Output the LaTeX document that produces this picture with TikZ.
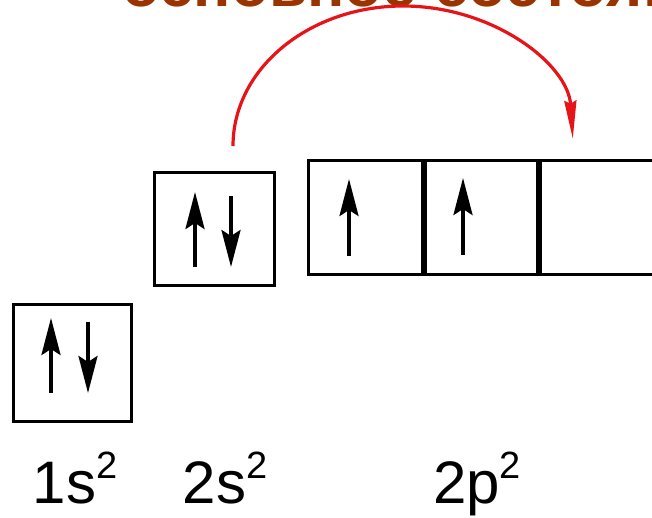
\documentclass[tikz,border=0pt]{standalone}
\usepackage{fontspec}
\setmainfont{Liberation Sans}
\usetikzlibrary{positioning, arrows.meta}
\definecolor{titlebrown}{RGB}{153,51,0}
\definecolor{jumpred}{RGB}{230,20,25}
\newcommand{\spow}[1]{\raisebox{25pt}{\fontsize{38}{42}\selectfont #1}}

\begin{document}
\begin{tikzpicture}[x=1pt, y=-1pt, %
        orb/.style={draw, line width=3pt, inner sep=0pt},
        spin/.style={line width=3.5pt, -{Stealth[length=37pt, width=19pt, inset=6pt]}},
        jump/.style={draw=jumpred, line width=3.2pt, -{Stealth[length=38pt, width=12pt, inset=3pt]}},
        lbl/.style={font=\fontsize{60}{72}\selectfont, inner sep=0pt, anchor=base},
        ttl/.style={font=\fontsize{62}{72}\selectfont\bfseries, text=titlebrown, inner sep=0pt, anchor=base west}
        ]
        \path[use as bounding box] (0,0) rectangle (652,518);
        \clip (0,0) rectangle (652,518);
        \node[ttl] (title) at (122,7) {основное состояние};
        \node[orb, minimum width=118pt, minimum height=116.6pt] (box1s) at (72,363) {};
        \node[orb, minimum width=119.5pt, minimum height=113pt] (box2s) at (214.5,229) {};
        \node[orb, minimum width=113.5pt, minimum height=113.5pt] (box2pa) at (365.25,217.5) {};
        \node[orb, minimum width=112pt, minimum height=113.5pt, right=0pt of box2pa] (box2pb) {};
        \node[orb, minimum width=120pt, minimum height=113.5pt, right=0pt of box2pb] (box2pc) {};
        \draw[spin] ([shift={(-21,30)}]box1s.center) -- ++(0,-75);
        \draw[spin] ([shift={(16,-41)}]box1s.center) -- ++(0,71);
        \draw[spin] ([shift={(-19.5,38)}]box2s.center) -- ++(0,-75);
        \draw[spin] ([shift={(16.5,-33)}]box2s.center) -- ++(0,71);
        \draw[spin] ([shift={(-16.25,38.5)}]box2pa.center) -- ++(0,-77);
        \draw[spin] ([shift={(-18,37.5)}]box2pb.center) -- ++(0,-77);
        \coordinate (jumpstart) at ([shift={(18.5,-25)}]box2s.north);
        \draw[jump] (jumpstart) arc[start angle=180, end angle=357, x radius=170, y radius=140];
        \node[lbl] (lab1s) at (75,503) {1s\spow{2}};
        \node[lbl] (lab2s) at (225,503) {2s\spow{2}};
        \node[lbl] (lab2p) at (477,503) {2p\spow{2}};
      \end{tikzpicture}
\end{document}
